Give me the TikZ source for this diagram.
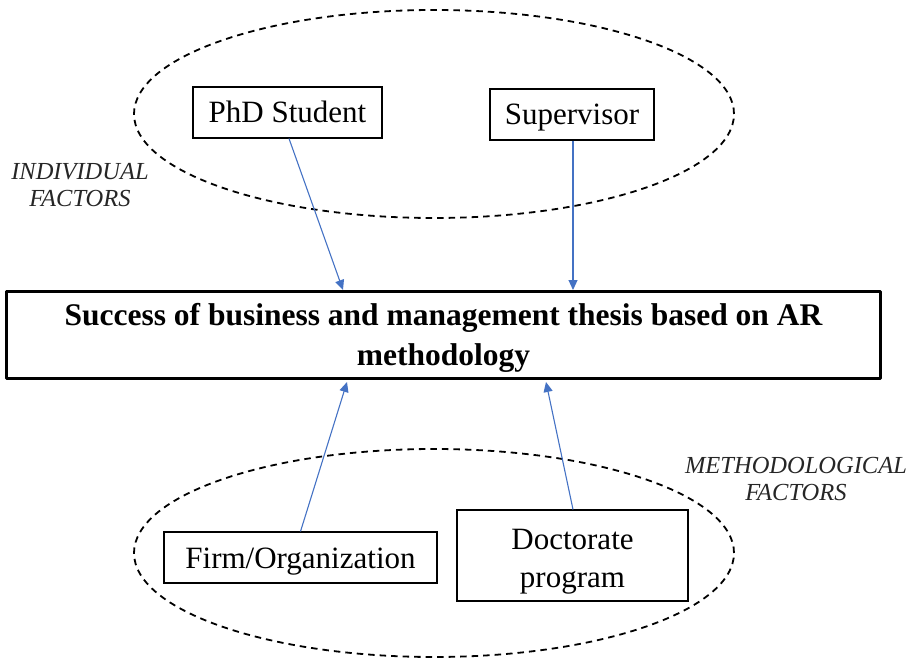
\documentclass[tikz,border=0pt]{standalone}
\usepackage{fontspec}
\setmainfont{Liberation Serif}
\usetikzlibrary{arrows.meta,shapes.geometric,calc}
\begin{document}
\begin{tikzpicture}[x=1pt,y=-1pt,
  group/.style={draw, ellipse, dash pattern=on 6.5pt off 5pt, line width=1.8pt, inner sep=0pt, minimum width=600pt, minimum height=208pt},
  factor/.style={draw, line width=1.1pt, inner sep=0pt, align=center, text height=21pt, text depth=0pt, font=\fontsize{31}{38}\selectfont},
  boxtext/.style={inner sep=0pt, align=center, font=\fontsize{31}{38}\selectfont},
  label/.style={align=center, font=\itshape\fontsize{24.5}{27.5}\selectfont, text=black!85},
  mainbox/.style={draw, line width=3.6pt, line join=round, inner sep=0pt, minimum width=874pt, minimum height=87pt},
  maintext/.style={inner sep=0pt, align=center, font=\bfseries\fontsize{31.5}{40}\selectfont},
  arr/.style={color={rgb,255:red,68;green,114;blue,196}, line width=1.1pt, -{Triangle[width=9pt,length=10pt]}}
]
\useasboundingbox (0,0) rectangle (915,660);
\node[group] (topgrp) at (434,114) {};
\node[group] (botgrp) at (434,553) {};
\node[factor, minimum width=189pt, minimum height=51pt] (phd) at (287.5,112.5) {PhD Student};
\node[factor, minimum width=164pt, minimum height=51pt] (sup) at (572,114.5) {Supervisor};
\node[factor, minimum width=273pt, minimum height=51pt] (firm) at (300.5,557.5) {Firm/Organization};
\node[draw, line width=1.1pt, inner sep=0pt, minimum width=231pt, minimum height=91pt] (doc) at (572.5,555.5) {};
\node[boxtext] (doctxt) at ($(doc.center)+(0,6)$) {Doctorate\\program};
\node[mainbox] (main) at (443.5,335) {};
\node[maintext] (maintxt) at ($(main.center)+(0,3)$) {Success of business and management thesis based on AR\\methodology};
\node[label] (indiv) at (80,185) {INDIVIDUAL\\FACTORS};
\node[label] (meth) at (796,479) {METHODOLOGICAL\\FACTORS};
\coordinate (m1) at (343,290);
\coordinate (m2) at (573,290);
\coordinate (m3) at (347,382);
\coordinate (m4) at (546,382);
\draw[arr] ($(phd.south)+(1.5,0)$) -- (m1);
\draw[arr] ($(sup.south)+(1,0)$) -- (m2);
\draw[arr] (firm.north) -- (m3);
\draw[arr] ($(doc.north)+(0.5,0)$) -- (m4);
\end{tikzpicture}
\end{document}
